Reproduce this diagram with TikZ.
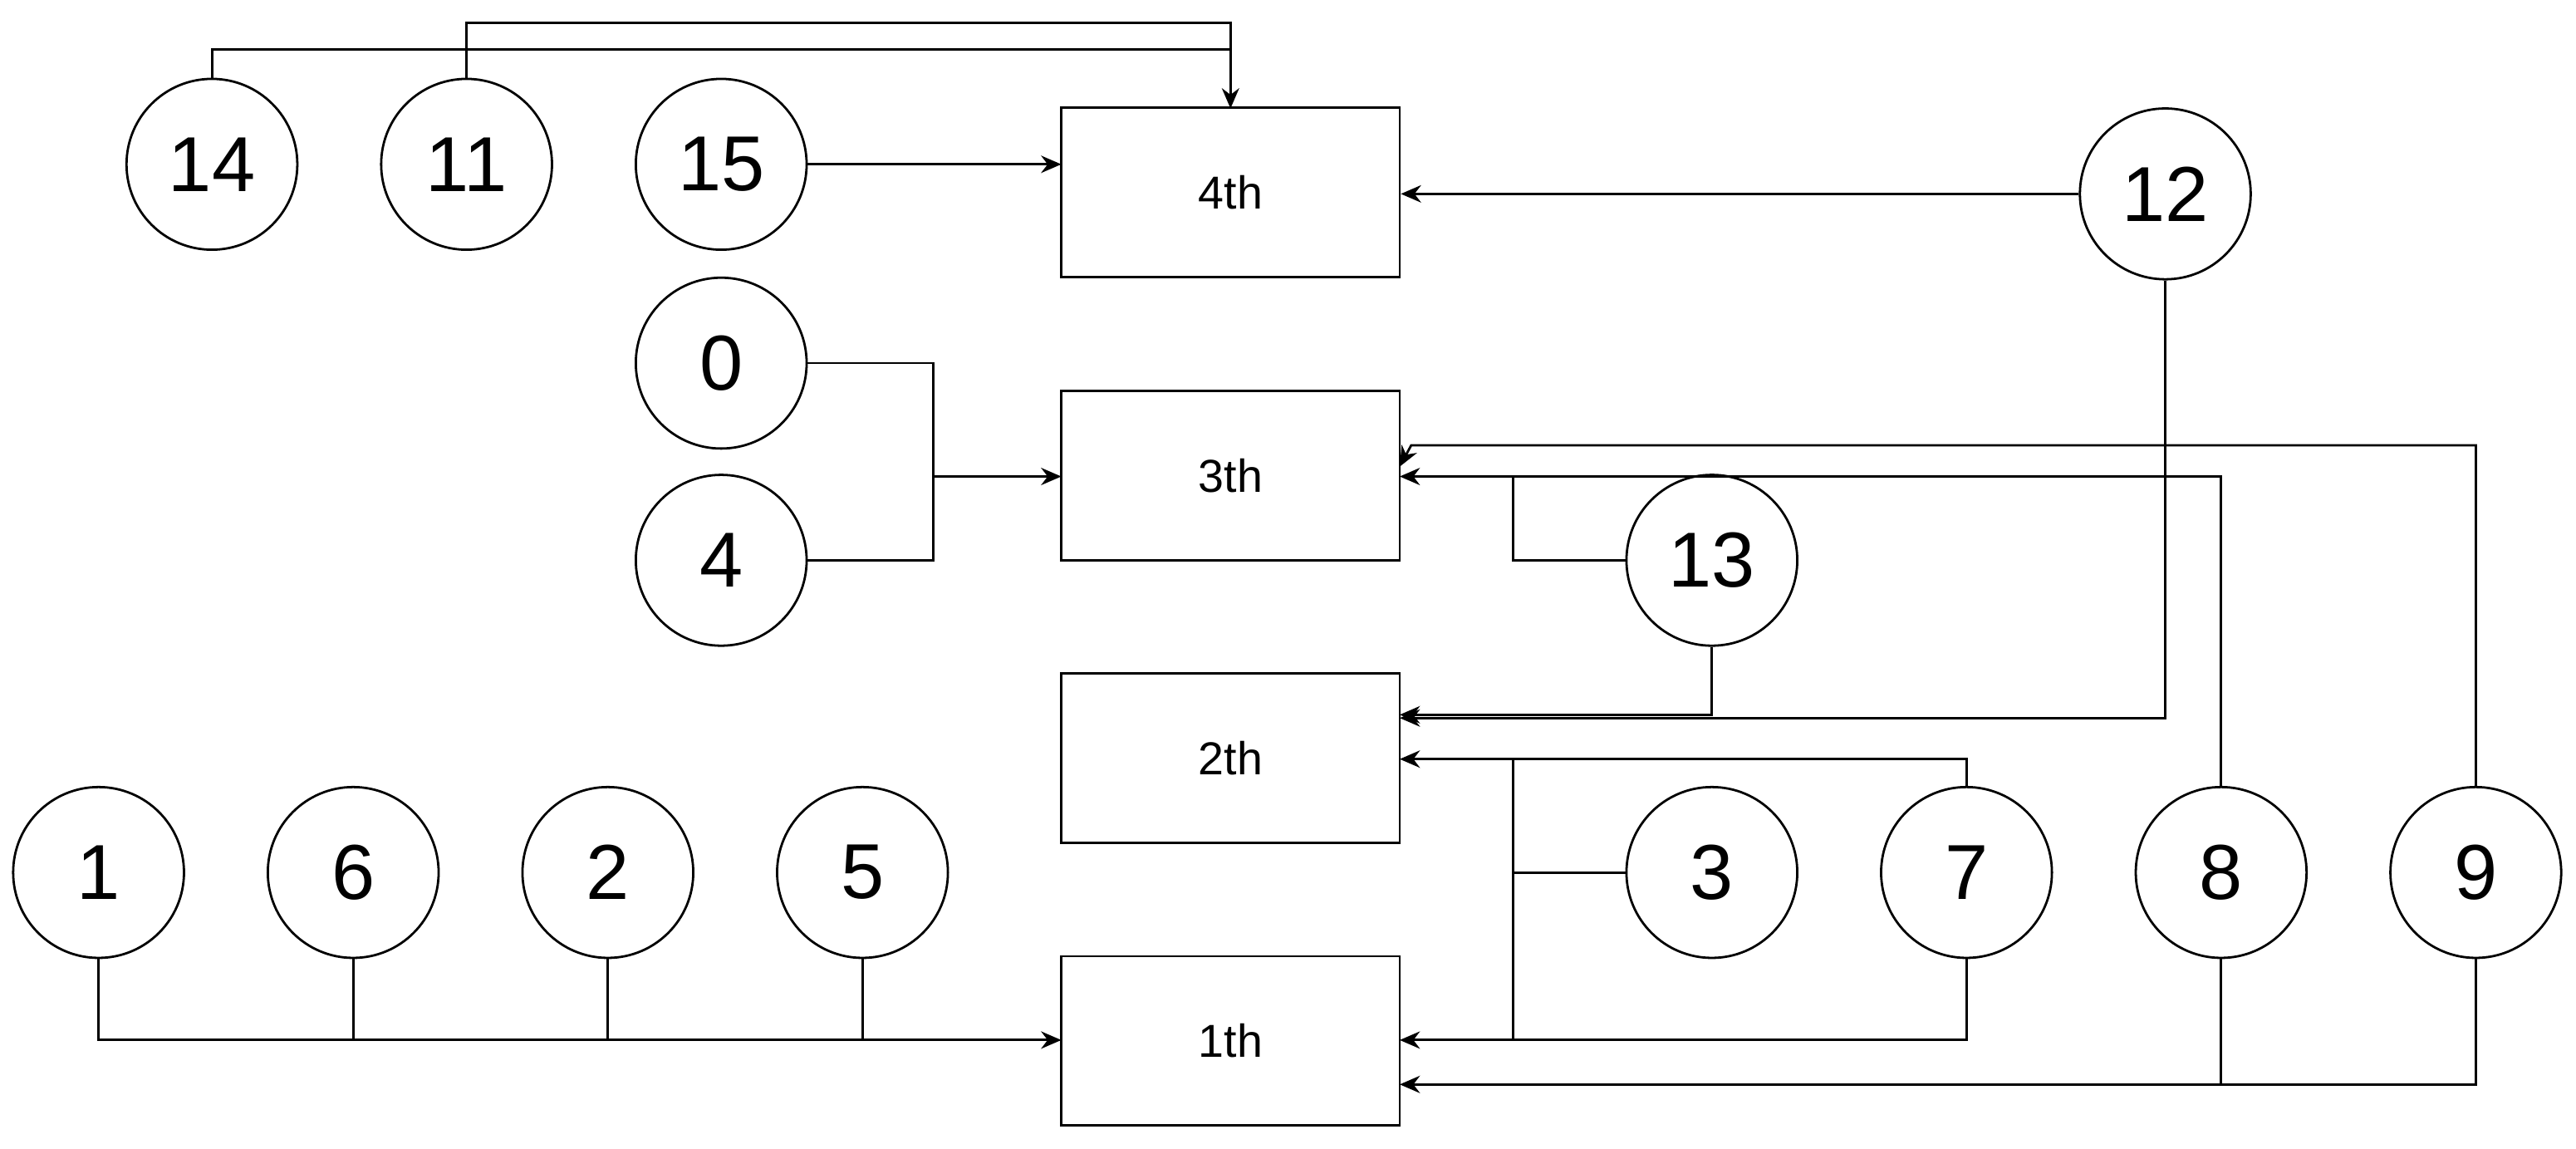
\documentclass[tikz,border=0pt]{standalone}
\usepackage{fontspec}
\setmainfont{Liberation Sans}
\usetikzlibrary{arrows.meta}
\begin{document}
\begin{tikzpicture}[x=0.02cm,y=-0.02cm,line width=0.8pt,
  c/.style={circle,draw,minimum size=2.08cm,inner sep=0pt,font=\fontsize{27}{30}\selectfont},
  b/.style={draw,minimum width=4.12cm,minimum height=2.06cm,inner sep=0pt,font=\fontsize{16}{19}\selectfont},
  a/.style={-{Stealth[length=7pt,width=6pt]}}]
\useasboundingbox (0,0) rectangle (1568,699);
\node[b] (r4) at (749,117) {4th};
\node[b] (r3) at (749,289.5) {3th};
\node[b] (r2) at (749,461.5) {2th};
\node[b] (r1) at (749,633.5) {1th};
\foreach \n/\x/\y in {14/129/100,11/284/100,15/439/100,12/1318/118,0/439/221,4/439/341,13/1042/341,1/60/531,6/215/531,2/370/531,5/525/531,3/1042/531,7/1197/531,8/1352/531,9/1507/531}
  \node[c] (n\n) at (\x,\y) {\n};
\coordinate (t4) at (749,66);
\draw[a] (n14.north) |- (749,30) -- (t4);
\draw (n11.north) |- (749,14) -- (749,30);
\draw[a] (n15.east) -- (646,100);
\draw[a] (n12.west) -- (r4.east |- n12.west);
\draw[a] (n12.south) |- (852,437);
\draw (n0.east) -| (568,290);
\draw[a] (n4.east) -| (568,290) -- (646,290);
\draw (n13.west) -| (921,290);
\draw[a] (n8.north) |- (852,290);
\draw[a] (n9.north) |- (859,271) -- (852,284);
\draw[a] (n13.south) |- (852,435);
\draw[a] (n7.north) |- (852,462);
\draw (n3.west) -- (921,531);
\draw (921,462) -- (921,633);
\draw[a] (n7.south) |- (852,633);
\draw (n1.south) |- (525,633);
\draw (n6.south) -- (215,633);
\draw (n2.south) -- (370,633);
\draw[a] (n5.south) |- (646,633);
\draw (n8.south) -- (1352,660);
\draw[a] (n9.south) |- (852,660);
\end{tikzpicture}
\end{document}
